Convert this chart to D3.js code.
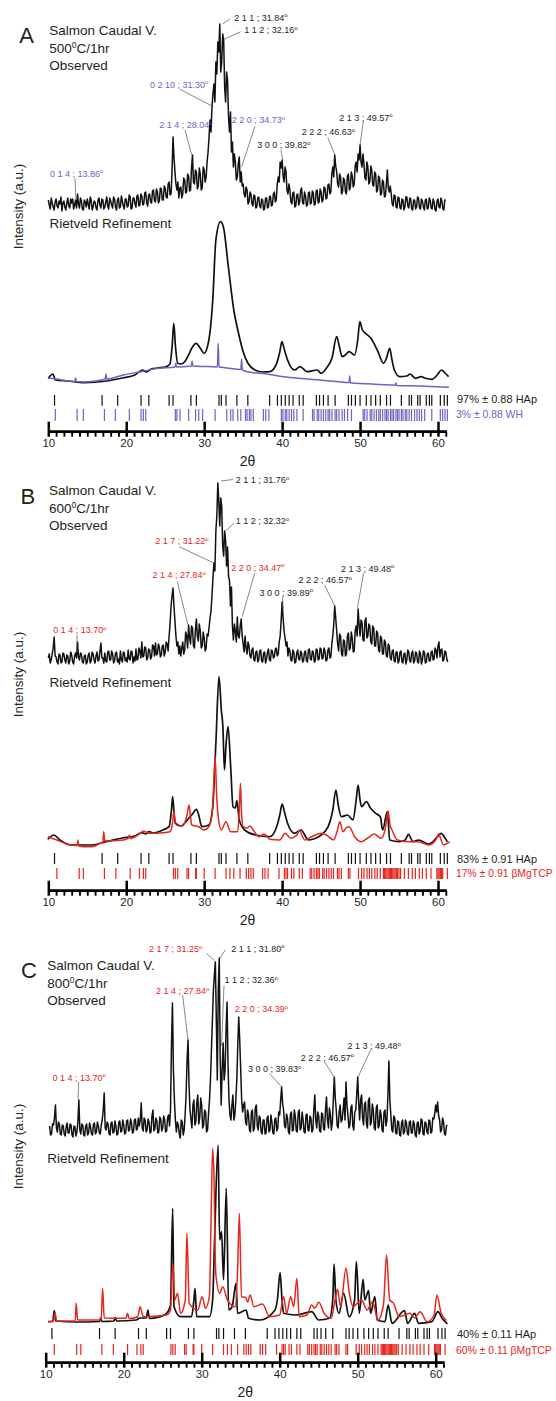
<!DOCTYPE html>
<html>
<head>
<meta charset="utf-8">
<script src="https://cdn.jsdelivr.net/npm/d3@7"></script>
<style>
  html, body { margin: 0; padding: 0; background: #fff; }
  svg { display: block; font-family: "Liberation Sans", Arial, Helvetica, sans-serif; }
</style>
</head>
<body>
<svg id="chart" width="556" height="1401"></svg>
<script>
// ---------------------------------------------------------------
// Data: powder XRD of salmon caudal vertebra after heat treatment
// ---------------------------------------------------------------

// Observed patterns, sampled every 0.125 deg 2-theta (intensity, a.u.)
const STEP = 0.125;
const obsAStart = 10.0;
const obsA = [
  12,7,3,14,9,5,2,10, 13,6,4,11,8,15,1,9, 11,5,2,9,14,6,4,13, 9,13,3,7,12,4,18,8,
  4,14,11,3,2,12,10,5, 13,8,3,15,12,2,5,11, 10,4,2,12,14,7,4,13, 12,3,5,10,15,6,3,14,
  11,7,4,15,13,5,2,12, 14,4,5,16,11,6,3,13, 13,5,6,17,15,3,4,14, 14,8,5,16,17,6,7,18,
  16,7,8,19,20,9,6,17, 18,10,9,21,22,11,10,23, 20,9,11,24,23,12,12,26, 24,15,14,28,30,17,18,40,
  75,55,40,28,22,30,14,24, 25,14,18,34,32,19,20,38, 36,21,22,44,57,30,28,42, 40,23,26,44,38,22,24,45,
  42,30,35,50,60,75,92,80, 105,118,128,110,150,138,170,160, 188,140,150,178,172,125,110,140, 132,95,80,100,60,70,45,58,
  50,32,35,48,55,30,40,26, 28,18,15,25,22,8,10,20, 18,8,6,17,16,4,5,14, 15,6,4,13,12,2,3,14,
  14,4,5,15,16,6,7,18, 20,10,12,28,35,30,50,44, 52,36,30,45,40,22,18,28, 22,10,8,19,20,5,6,17,
  18,7,10,22,24,9,8,20, 16,6,7,19,20,8,9,21, 19,7,8,21,22,9,10,23, 20,10,12,25,24,13,14,27,
  28,18,20,38,45,35,57,46, 40,28,25,38,35,18,20,34, 32,20,18,36,38,22,24,40, 36,25,28,46,50,40,58,52,
  67,50,45,58,48,34,32,50, 45,28,30,46,42,27,26,40, 38,20,22,36,34,17,18,32, 30,15,16,28,42,24,20,26,
  18,8,6,17,16,5,4,15, 14,4,3,13,12,2,5,15, 15,6,4,14,13,3,2,12, 12,3,5,15,14,4,3,13,
  11,5,2,12,13,3,4,14, 12,4,3,13,10,2,1,11, 13,5,4,14,11,3,2,12, 12
];
const obsBStart = 10.0;
const obsB = [
  8,12,3,6,12,18,29,10, 9,4,2,12,11,3,4,13, 12,6,3,11,10,2,5,14, 11,4,2,10,13,8,24,9,
  6,13,12,4,3,10,11,2, 4,11,13,3,5,14,12,6, 3,10,14,5,6,15,23,8, 8,3,13,5,4,14,15,6,
  6,15,12,3,5,13,14,4, 7,2,15,6,4,14,13,5, 8,4,16,7,6,15,14,3, 9,5,17,6,7,18,15,8,
  24,9,10,19,18,6,8,17, 16,7,9,21,20,10,23,11, 12,22,19,9,11,20,21,10, 14,24,22,15,30,42,60,70,
  78,60,45,30,20,24,12,20, 10,18,24,12,16,34,30,18, 41,28,22,40,38,20,18,36, 47,30,25,42,35,18,20,34,
  28,15,18,32,30,38,48,55, 70,88,103,95,135,150,183,165, 140,168,160,120,110,135,125,100, 119,90,85,60,79,40,26,42,
  35,24,49,30,28,40,47,30, 22,14,30,18,12,24,20,10, 8,16,18,6,5,14,15,4, 6,15,16,5,4,13,14,3,
  7,14,17,6,5,16,15,8, 9,17,18,10,12,24,30,45, 64,48,35,28,20,24,10,18, 15,6,5,16,14,3,4,13,
  16,7,6,15,13,4,5,14, 15,5,4,16,17,7,6,15, 14,4,5,17,16,6,7,18, 17,7,8,18,15,5,6,16,
  18,8,9,22,30,42,60,48, 35,22,15,32,30,12,10,26, 25,10,12,30,33,16,18,34, 28,14,15,35,40,30,57,42,
  30,46,44,26,25,45,48,28, 30,42,40,24,22,40,38,20, 20,35,33,16,14,30,28,12, 12,26,24,10,9,22,20,8,
  6,15,16,5,4,14,14,3, 5,14,15,4,3,12,13,2, 6,16,14,5,4,13,15,3, 5,14,13,4,3,15,12,2,
  6,15,14,3,4,12,13,5, 5,14,15,6,7,18,16,8, 20,24,9,16,17,5,6,15, 14,7,4
];
const obsCStart = 10.5;
const obsC = [
  14,5,6,16, 15,22,35,12,8,18,16,6, 5,15,14,6,4,13,17,7, 7,16,15,5,3,14,13,4,
  8,18,40,10,6,16,15,5, 4,14,16,5,7,17,13,6, 5,16,17,6,8,18,14,7, 6,15,20,30,47,12,10,18,
  16,6,5,17,18,7,8,19, 14,5,6,18,19,8,9,20, 15,6,7,19,20,9,10,21, 17,7,8,20,21,10,11,22,
  14,20,37,12,9,22,20,8, 10,21,18,7,8,24,30,9, 11,22,19,7,8,23,21,9, 12,24,20,8,9,22,25,14,
  30,95,137,70,40,20,8,18, 15,6,2,20,18,5,10,25, 45,80,100,55,30,20,12,35, 40,15,18,38,45,16,22,42,
  35,12,15,30,28,8,10,26, 40,60,90,120,150,165,178,120, 60,150,182,80,35,70,97,60, 70,110,138,75,40,25,20,35,
  45,20,25,40,60,95,123,100, 70,40,28,35,38,18,15,30, 25,10,8,28,30,9,12,32, 35,14,10,24,22,8,6,20,
  20,6,7,22,24,8,10,25, 18,7,6,21,22,9,12,28, 25,40,53,36,30,14,12,26, 22,8,6,26,28,9,10,30,
  24,9,8,27,30,10,12,28, 20,8,7,25,26,10,9,24, 22,8,10,30,45,20,12,28, 24,9,8,27,26,11,10,30,
  43,20,12,32,25,10,18,40, 63,42,30,14,12,28,35,18, 20,30,42,20,58,35,25,12, 15,32,35,14,10,28,30,45,
  63,38,20,40,45,22,15,36, 38,16,12,40,42,15,18,36, 30,12,10,32,35,12,14,30, 25,10,8,28,30,14,20,45,
  79,40,25,10,8,24,22,7, 6,19,18,5,4,17,20,6, 8,20,17,6,5,18,19,7, 7,19,16,5,3,17,18,6,
  9,21,20,6,5,18,17,8, 6,20,19,7,8,22,21,26, 35,28,38,24,20,8,10,22, 18,6,5,14,15
];

// Rietveld calculated profiles: [2-theta, intensity]
const calcA_HAp = [[10.0,11.7],[10.6,16],[10.9,10],[12.5,9],[14.6,7.3],[17.5,9],[19.5,12],[21.1,15],[22.1,20],[22.6,18],[23.2,21],[24.0,22],[25.0,23],[25.6,26],[25.9,45],[26.1,66.7],[26.3,45],[26.6,26.7],[27.0,26],[27.5,28.3],[28.0,35],[28.4,41.7],[28.96,46.7],[29.5,41.7],[30.0,36.7],[30.6,50],[31.1,90],[31.5,150],[32.1,168.3],[32.5,161.7],[33.1,123.3],[33.8,80],[34.4,57],[35.0,38.3],[35.6,27],[36.5,20],[37.5,18],[38.4,18.3],[39.3,26.7],[39.7,38],[39.97,48.3],[40.3,40],[40.7,30],[41.6,20],[42.3,23.3],[43.2,18.3],[44.5,20],[45.0,16.7],[45.7,22],[46.4,32],[47.0,53.3],[47.3,45],[47.7,33.3],[48.1,35],[48.6,38.3],[49.3,35],[49.7,50],[49.97,68.3],[50.3,60],[50.7,56.7],[51.4,51.7],[52.3,38.3],[53.0,26.7],[53.4,32],[53.8,41.7],[54.1,30],[54.4,20],[55.1,13.3],[56.0,14],[56.4,16],[57.1,11.7],[57.8,13.3],[58.5,11.5],[59.2,10.7],[59.9,15],[60.45,20],[60.9,17],[61.36,13.3]];
const calcA_WH = [[10.0,11.7],[11.0,11],[12.5,9],[13.4,8.5],[13.5,12],[13.6,8.4],[14.6,8],[16.0,9],[17.3,11],[17.4,16],[17.5,11],[19.6,15],[22.0,18.5],[24.2,21.7],[26.25,23],[26.35,26.7],[26.45,23],[28.35,24],[28.45,29],[28.55,24],[30.0,23.5],[31.1,23.3],[31.7,23],[31.8,46.7],[31.9,22.8],[32.5,22.5],[33.2,21.7],[34.7,20.5],[34.8,30.7],[34.9,20],[35.6,18.3],[38.0,16],[40.2,13.3],[42.5,11.5],[44.8,10],[47.0,8.5],[48.6,7.5],[48.67,14],[48.75,7.3],[49.4,6.7],[51.5,6],[53.8,5],[54.5,4.8],[54.6,7],[54.7,4.6],[57.5,4],[61.4,2.7]];

const calcB_HAp = [[9.94,10.7],[10.7,15],[11.5,10],[12.9,5],[15.6,5],[17.4,8.3],[19.5,12],[21.1,14],[22.0,17.3],[22.5,16],[22.9,18.3],[23.5,17],[24.7,20],[25.5,23.3],[25.8,40],[25.96,53.3],[26.15,35],[26.3,26.7],[27.0,24],[27.9,30.7],[28.5,36],[29.0,40.7],[29.3,35],[29.7,23.3],[30.6,25],[31.1,43.3],[31.5,106.7],[31.9,173.3],[32.2,140],[32.4,123.3],[32.6,80],[32.8,105],[33.06,123.3],[33.4,83.3],[33.7,43.3],[34.0,42],[34.2,49.3],[34.5,30],[35.2,20],[36.6,15],[38.4,13.3],[39.3,23.3],[39.7,35],[40.0,46],[40.3,38],[40.7,26.7],[41.6,16.7],[42.4,20],[43.4,10],[44.3,11.7],[45.0,15],[45.9,23.3],[46.5,40],[46.9,60],[47.2,45],[47.6,33.3],[48.4,35],[49.1,30],[49.5,50],[49.75,65],[50.0,50],[50.2,43.3],[50.8,48.3],[51.35,41.7],[52.0,36.7],[52.6,33.3],[52.9,20],[53.5,38.3],[53.8,10],[55.0,8.3],[55.8,10],[56.2,15.7],[56.8,8.3],[57.5,10],[58.8,6],[59.8,12],[60.4,16.7],[60.9,12],[61.2,8.3]];
const calcB_TCP = [[9.94,13.3],[11.1,10],[12.9,5],[13.7,4.5],[13.8,10],[13.9,4],[14.5,3.3],[15.6,3.3],[16.8,7.3],[17.0,8],[17.1,18.3],[17.25,9],[19.7,10],[20.3,12],[20.4,15],[20.55,11.5],[21.8,16.7],[22.2,19],[22.9,16.7],[24.7,17.3],[25.6,18.3],[25.9,25],[26.1,38.3],[26.3,28],[26.55,26],[27.2,24],[27.8,35],[28.05,45],[28.3,30],[28.4,25],[29.3,23.3],[30.0,20],[30.6,23.3],[31.0,35],[31.2,60],[31.4,94],[31.6,55],[31.8,33.3],[32.2,20],[32.8,28.3],[33.4,18.3],[34.3,18.3],[34.5,40],[34.65,66.7],[34.8,35],[35.0,23.3],[35.5,22],[35.9,24],[36.3,20],[37.0,13.3],[37.7,16],[38.4,10.7],[39.7,10],[40.4,16.7],[41.1,11.7],[41.9,15],[42.2,19.3],[42.9,10],[43.8,13.3],[45.0,16.7],[45.7,15],[46.6,10],[47.1,20],[47.4,28.3],[47.8,18.3],[48.2,22],[48.6,23.3],[49.3,13.3],[50.2,8.3],[51.0,12],[51.8,16],[52.7,11.7],[53.2,20],[53.6,39.3],[53.85,25],[54.1,20],[54.8,10],[56.1,8.3],[57.5,8.3],[58.8,5],[59.7,10],[60.1,16],[60.4,10],[60.7,5],[61.5,8.3]];

const calcC_HAp = [[10.3,3.3],[10.9,3.5],[11.1,14.3],[11.3,4],[14.0,3],[16.9,3.5],[17.05,7],[17.2,3.5],[18.75,4],[18.9,7.3],[19.1,4],[21.6,5],[22.1,7],[22.9,7],[23.1,15],[23.3,6.5],[24.5,8],[25.5,11.7],[26.0,20],[26.28,116.7],[26.45,18.3],[27.3,8.3],[28.7,8.3],[29.0,25],[29.15,36.7],[29.35,8.3],[31.0,8.3],[31.4,25],[31.65,85],[32.1,180],[32.3,85],[32.55,93.3],[32.8,45],[33.15,136.7],[33.46,15],[33.9,18.3],[34.4,41.7],[34.6,11.7],[35.7,15],[36.0,6.7],[37.5,5],[39.4,15],[39.7,25],[40.05,52.3],[40.3,25],[40.5,11.7],[42.1,10],[44.1,13.3],[45.0,5],[46.4,6.7],[46.8,25],[46.97,61],[47.2,25],[47.6,11.7],[48.2,31.7],[48.9,8.3],[49.6,25],[49.83,63.3],[50.2,11.7],[50.7,45.7],[50.9,25],[51.4,34.3],[51.65,11.7],[52.2,28.3],[52.5,5],[53.5,3.3],[53.9,20],[54.4,1.7],[56.0,14.3],[56.4,1.7],[57.3,11.7],[57.8,1.7],[59.5,3.3],[60.3,13.3],[60.8,7],[61.5,1]];
const calcC_TCP = [[10.3,3.3],[11.0,4],[11.2,12.3],[11.4,4],[13.8,4],[13.9,21.7],[14.1,5],[17.1,5],[17.3,36.7],[17.5,7],[20.3,6.7],[20.5,11.7],[20.7,6.5],[21.8,8.3],[22.1,18.3],[22.5,8.3],[25.5,10],[26.0,15],[26.3,61.7],[26.55,25],[26.9,31.7],[27.3,11.7],[27.9,25],[28.1,91.7],[28.4,21.7],[29.5,15],[30.05,28.3],[30.5,16.7],[31.0,30],[31.2,105],[31.4,176.7],[31.55,155],[31.8,51.7],[32.3,31.7],[32.7,38.3],[33.3,25],[34.3,18.3],[34.6,55],[34.83,111.7],[35.1,28.3],[35.6,27.7],[35.9,23],[36.2,30],[36.7,18.3],[37.8,21],[38.7,8.3],[40.0,10],[40.5,28.3],[40.9,11.7],[41.4,28.3],[41.8,18.3],[42.2,46.7],[42.5,8.3],[43.5,10],[44.1,20],[44.5,16.7],[45.0,22.7],[45.7,11.7],[46.6,6.7],[47.1,25],[47.4,35.7],[47.8,18.3],[48.5,56.7],[48.9,33.3],[49.4,18.3],[50.5,25],[51.2,15],[51.9,23.3],[52.6,5],[53.3,20],[53.7,70],[54.1,25],[54.6,21.7],[55.3,8.3],[56.7,11.7],[57.3,7],[58.0,13.3],[58.9,3.3],[59.8,10],[60.15,30],[60.7,11.7],[61.4,4.3]];

// Reflection positions (2-theta) for each refined phase
const hapTicks = [10.8,16.9,18.9,21.9,22.9,25.5,26.0,28.3,29.0,31.9,32.2,32.8,34.2,35.6,38.4,39.4,39.9,40.4,40.9,41.4,42.2,42.7,44.4,44.8,45.3,45.9,46.8,48.5,48.9,49.4,50.0,50.8,51.4,52.0,52.6,53.4,53.9,55.3,56.3,56.6,57.4,57.7,58.5,58.9,59.2,60.3,60.8,61.2];
const whTicks = [10.9,13.7,14.5,17.2,18.6,20.4,21.9,22.2,22.5,26.3,26.5,26.9,28.0,28.9,29.3,29.8,31.4,32.9,33.4,33.7,34.3,34.7,35.3,35.5,35.8,36.0,36.3,37.6,37.9,38.3,39.9,40.1,40.4,40.6,40.9,41.2,41.5,41.9,42.7,43.9,44.1,44.5,44.7,45.0,45.3,45.6,45.9,46.1,46.4,46.8,47.0,47.3,47.7,48.0,48.4,48.9,50.4,50.6,50.9,51.3,51.5,51.8,52.1,52.4,52.6,52.9,53.2,53.4,53.6,53.9,54.1,54.3,54.6,54.8,55.0,55.3,55.5,55.8,56.0,56.3,56.6,57.0,57.3,57.6,57.9,58.3,59.2,60.3,60.6,60.9,61.2];
const tcpTicks = [11.1,13.97,14.5,17.2,18.67,20.5,21.7,22.2,22.5,26.06,26.3,26.6,27.8,28.0,28.9,29.0,30.0,31.4,32.8,33.3,33.8,34.6,35.4,35.7,36.0,36.3,37.5,37.8,38.2,39.6,40.3,40.5,40.7,41.2,41.5,42.2,42.6,43.6,43.8,44.1,44.4,44.6,44.8,45.2,45.4,45.7,46.0,46.3,46.6,47.1,47.3,47.6,48.5,48.7,49.8,50.2,50.5,50.9,51.2,51.5,51.9,52.2,52.6,53.0,53.15,53.3,53.45,53.6,53.75,53.9,54.05,54.2,54.35,54.5,54.65,54.8,55.0,55.2,55.7,56.2,56.7,57.1,57.6,58.0,58.5,59.1,59.85,60.0,60.15,60.3,60.45,60.6,61.2];

// Phase fractions from the refinements
const fractionsA = ["97% \u00B1 0.88 HAp", "3% \u00B1 0.88 WH"];
const fractionsB = ["83% \u00B1 0.91 HAp", "17% \u00B1 0.91 \u03B2MgTCP"];
const fractionsC = ["40% \u00B1 0.11 HAp", "60% \u00B1 0.11 \u03B2MgTCP"];

// Indexed reflections labelled on the observed patterns: [hkl, 2-theta, phase]
const peaksA = [["2 1 1","31.84","hap"],["1 1 2","32.16","hap"],["0 2 10","31.30","sec"],["2 1 4","28.04","sec"],["2 2 0","34.73","sec"],["3 0 0","39.82","hap"],["2 2 2","46.63","hap"],["2 1 3","49.57","hap"],["0 1 4","13.86","sec"]];
const peaksB = [["2 1 1","31.76","hap"],["1 1 2","32.32","hap"],["2 1 7","31.22","sec"],["2 1 4","27.84","sec"],["2 2 0","34.47","sec"],["3 0 0","39.89","hap"],["2 2 2","46.57","hap"],["2 1 3","49.48","hap"],["0 1 4","13.70","sec"]];
const peaksC = [["2 1 7","31.25","sec"],["2 1 1","31.80","hap"],["1 1 2","32.36","hap"],["2 1 4","27.84","sec"],["2 2 0","34.39","sec"],["3 0 0","39.83","hap"],["2 2 2","46.57","hap"],["2 1 3","49.48","hap"],["0 1 4","13.70","sec"]];

// ---------------------------------------------------------------
// Layout and style
// ---------------------------------------------------------------
const INK = "#231f20";
const PURPLE = "#6c63c4";
const RED = "#e5261f";

const panels = [
  {
    letter: "A", temp: "500", secColor: PURPLE,
    obs: obsA, obsStart: obsAStart, obsMax: 188, obsY: [212, 24],
    calc: [calcA_HAp, calcA_WH], calcMax: 168.3, calcY: [390, 221.7],
    secTicks: whTicks, fractions: fractionsA, peaks: peaksA,
    xRange: [48.3, 438], axisY: 431.7,
    letterPos: [19.3, 43.3], titleX: 49.3, titleY: [35, 52.7, 70],
    rietveld: [49.6, 227.5], yTitle: [23, 206.5],
    tickRows: [[395, 405.7], [409, 421]], legendX: 457, legendY: [403.3, 418.3],
    notes: [
      [234.3, 20.7, 222.5, 24, 230, 19], [244.3, 33, 224, 39.3, 240.7, 31.7],
      [150, 87.7, 180, 89.3, 213.3, 106.7], [159.3, 128, 185, 130, 191.7, 155],
      [231.7, 123, 255, 126, 241.7, 166.7], [257.3, 148, 281, 150, 282.7, 160],
      [301.7, 135, 327.7, 137.3, 335, 155], [339.3, 120.7, 363.3, 121.7, 360, 145],
      [50, 176.7, 75, 178.3, 76, 200]
    ]
  },
  {
    letter: "B", temp: "600", secColor: RED,
    obs: obsB, obsStart: obsBStart, obsMax: 183, obsY: [666, 483],
    calc: [calcB_HAp, calcB_TCP], calcMax: 173.3, calcY: [850, 676.7],
    secTicks: tcpTicks, fractions: fractionsB, peaks: peaksB,
    xRange: [48.3, 438], axisY: 890.7,
    letterPos: [20.5, 504], titleX: 48.9, titleY: [495, 512.7, 530],
    rietveld: [49.6, 687.3], yTitle: [23, 674.5],
    tickRows: [[853, 864], [868, 879]], legendX: 457, legendY: [862.5, 877],
    notes: [
      [235.8, 483, 221, 481, 233, 479.5], [235.8, 524, 225.9, 530.7, 234, 523.3],
      [155.3, 544, 179, 546.7, 214.5, 563.3], [152.5, 578.3, 177.3, 581.7, 188, 625],
      [231.2, 570.7, 254.6, 573.3, 242.2, 616.7], [259.6, 595.7, 282.6, 596.7, 283, 610],
      [298.6, 583.3, 324.5, 585, 335.1, 606.7], [341, 571.7, 363.5, 573.3, 357.4, 608.3],
      [53.2, 633.3, 77, 635, 77, 651.7]
    ]
  },
  {
    letter: "C", temp: "800", secColor: RED,
    obs: obsC, obsStart: obsCStart, obsMax: 182, obsY: [1140, 958],
    calc: [calcC_HAp, calcC_TCP], calcMax: 180, calcY: [1325, 1145],
    secTicks: tcpTicks, fractions: fractionsC, peaks: peaksC,
    xRange: [45.7, 435.7], axisY: 1362.7,
    letterPos: [21, 978.3], titleX: 47.2, titleY: [970, 987.5, 1005],
    rietveld: [47.2, 1162.7], yTitle: [23, 1146.5],
    tickRows: [[1328, 1339], [1344, 1355]], legendX: 457, legendY: [1337.5, 1353.5],
    notes: [
      [149, 952.3, 206.4, 953.3, 214.5, 960.7], [231.2, 951.7, 219.9, 958.3, 225.2, 950],
      [224.5, 983.3, 224, 985.5, 221.6, 1046], [156, 994, 182.6, 995, 188, 1040],
      [234.8, 1012.3, null, null, null, null], [248, 1072.3, 269.5, 1073.3, 281.9, 1087.3],
      [300.7, 1060.7, 324.5, 1061.7, 335.1, 1078.3], [347.5, 1049, 370.6, 1050, 358.2, 1076.7],
      [52.5, 1080.7, 78.7, 1081.7, 78, 1099.3]
    ]
  }
];

const svg = d3.select("#chart");
const majorTicks = d3.range(10, 61, 10);
const minorTicks = d3.range(11, 62).filter(v => v % 10 !== 0);
const AXIS_END = 61.15;

panels.forEach(p => {
  const g = svg.append("g");
  const x = d3.scaleLinear().domain([10, 60]).range(p.xRange);
  const yObs = d3.scaleLinear().domain([0, p.obsMax]).range(p.obsY);
  const yCalc = d3.scaleLinear().domain([0, p.calcMax]).range(p.calcY);

  // panel letter and titles
  g.append("text").attr("x", p.letterPos[0]).attr("y", p.letterPos[1])
    .attr("font-size", 22).attr("fill", INK).text(p.letter);
  g.append("text").attr("x", p.titleX).attr("y", p.titleY[0])
    .attr("font-size", 13.5).attr("fill", INK).text("Salmon Caudal V.");
  const t2 = g.append("text").attr("x", p.titleX).attr("y", p.titleY[1])
    .attr("font-size", 13.5).attr("fill", INK);
  t2.append("tspan").text(p.temp);
  t2.append("tspan").attr("font-size", 8.5).attr("dy", -5).text("0");
  t2.append("tspan").attr("dy", 5).text("C/1hr");
  g.append("text").attr("x", p.titleX).attr("y", p.titleY[2])
    .attr("font-size", 13.5).attr("fill", INK).text("Observed");
  g.append("text").attr("x", p.rietveld[0]).attr("y", p.rietveld[1])
    .attr("font-size", 13.5).attr("fill", INK).text("Rietveld Refinement");

  // y-axis title
  g.append("text")
    .attr("transform", `translate(${p.yTitle[0]},${p.yTitle[1]}) rotate(-90)`)
    .attr("text-anchor", "middle").attr("font-size", 13.5).attr("fill", INK)
    .text("Intensity (a.u.)");

  // observed pattern
  const obsLine = d3.line()
    .x((d, i) => x(p.obsStart + i * STEP))
    .y(d => yObs(d));
  g.append("path").datum(p.obs).attr("d", obsLine)
    .attr("fill", "none").attr("stroke", "#111").attr("stroke-width", 1.5)
    .attr("stroke-linejoin", "round");

  // calculated patterns (HAp first, second phase on top)
  const calcLine = d3.line().curve(d3.curveMonotoneX)
    .x(d => x(d[0])).y(d => yCalc(d[1]));
  g.append("path").datum(p.calc[0]).attr("d", calcLine)
    .attr("fill", "none").attr("stroke", "#111").attr("stroke-width", 1.7);
  g.append("path").datum(p.calc[1]).attr("d", calcLine)
    .attr("fill", "none").attr("stroke", p.secColor).attr("stroke-width", 1.5);

  // reflection markers
  g.append("g").selectAll("line").data(hapTicks).join("line")
    .attr("x1", d => x(d)).attr("x2", d => x(d))
    .attr("y1", p.tickRows[0][0]).attr("y2", p.tickRows[0][1])
    .attr("stroke", "#111").attr("stroke-width", 1.2);
  g.append("g").selectAll("line").data(p.secTicks).join("line")
    .attr("x1", d => x(d)).attr("x2", d => x(d))
    .attr("y1", p.tickRows[1][0]).attr("y2", p.tickRows[1][1])
    .attr("stroke", p.secColor).attr("stroke-width", 1.2);

  // phase fractions
  g.append("text").attr("x", p.legendX).attr("y", p.legendY[0])
    .attr("font-size", 11).attr("fill", INK).text(p.fractions[0]);
  g.append("text").attr("x", p.legendX - 1).attr("y", p.legendY[1])
    .attr("font-size", 10.4).attr("fill", p.secColor).text(p.fractions[1]);

  // peak annotations with leader lines
  p.peaks.forEach((pk, i) => {
    const n = p.notes[i];
    const col = pk[2] === "hap" ? INK : p.secColor;
    const t = g.append("text").attr("x", n[0]).attr("y", n[1])
      .attr("font-size", 9).attr("fill", col);
    t.append("tspan").text(pk[0] + " ; " + pk[1]);
    t.append("tspan").attr("font-size", 6).attr("dy", -3.5).text("o");
    if (n[2] !== null) {
      g.append("line").attr("x1", n[2]).attr("y1", n[3]).attr("x2", n[4]).attr("y2", n[5])
        .attr("stroke", "#555").attr("stroke-width", 0.7);
    }
  });

  // 2-theta axis: baseline, major ticks (up) and minor ticks (down)
  g.append("line").attr("x1", x(10)).attr("x2", x(AXIS_END))
    .attr("y1", p.axisY).attr("y2", p.axisY)
    .attr("stroke", "#000").attr("stroke-width", 2.8);
  const axMinor = g.append("g").attr("transform", `translate(0,${p.axisY})`)
    .call(d3.axisBottom(x).tickValues(minorTicks).tickSize(5).tickFormat(""));
  axMinor.select(".domain").remove();
  axMinor.selectAll(".tick line").attr("stroke", "#000").attr("stroke-width", 1.9);
  const axMajor = g.append("g").attr("transform", `translate(0,${p.axisY})`)
    .call(d3.axisBottom(x).tickValues(majorTicks).tickSize(5).tickFormat(d3.format("d")));
  axMajor.attr("font-family", null).attr("font-size", null);
  axMajor.select(".domain").remove();
  axMajor.selectAll(".tick line").attr("y1", -10).attr("y2", 5)
    .attr("stroke", "#000").attr("stroke-width", 2.5);
  axMajor.selectAll(".tick text").attr("y", 15).attr("dy", 0)
    .attr("font-size", 11.5).attr("fill", INK);

  g.append("text")
    .attr("x", (x(10) + x(AXIS_END)) / 2).attr("y", p.axisY + 34)
    .attr("text-anchor", "middle").attr("font-size", 14).attr("fill", INK)
    .text("2\u03B8");
});
</script>
</body>
</html>
